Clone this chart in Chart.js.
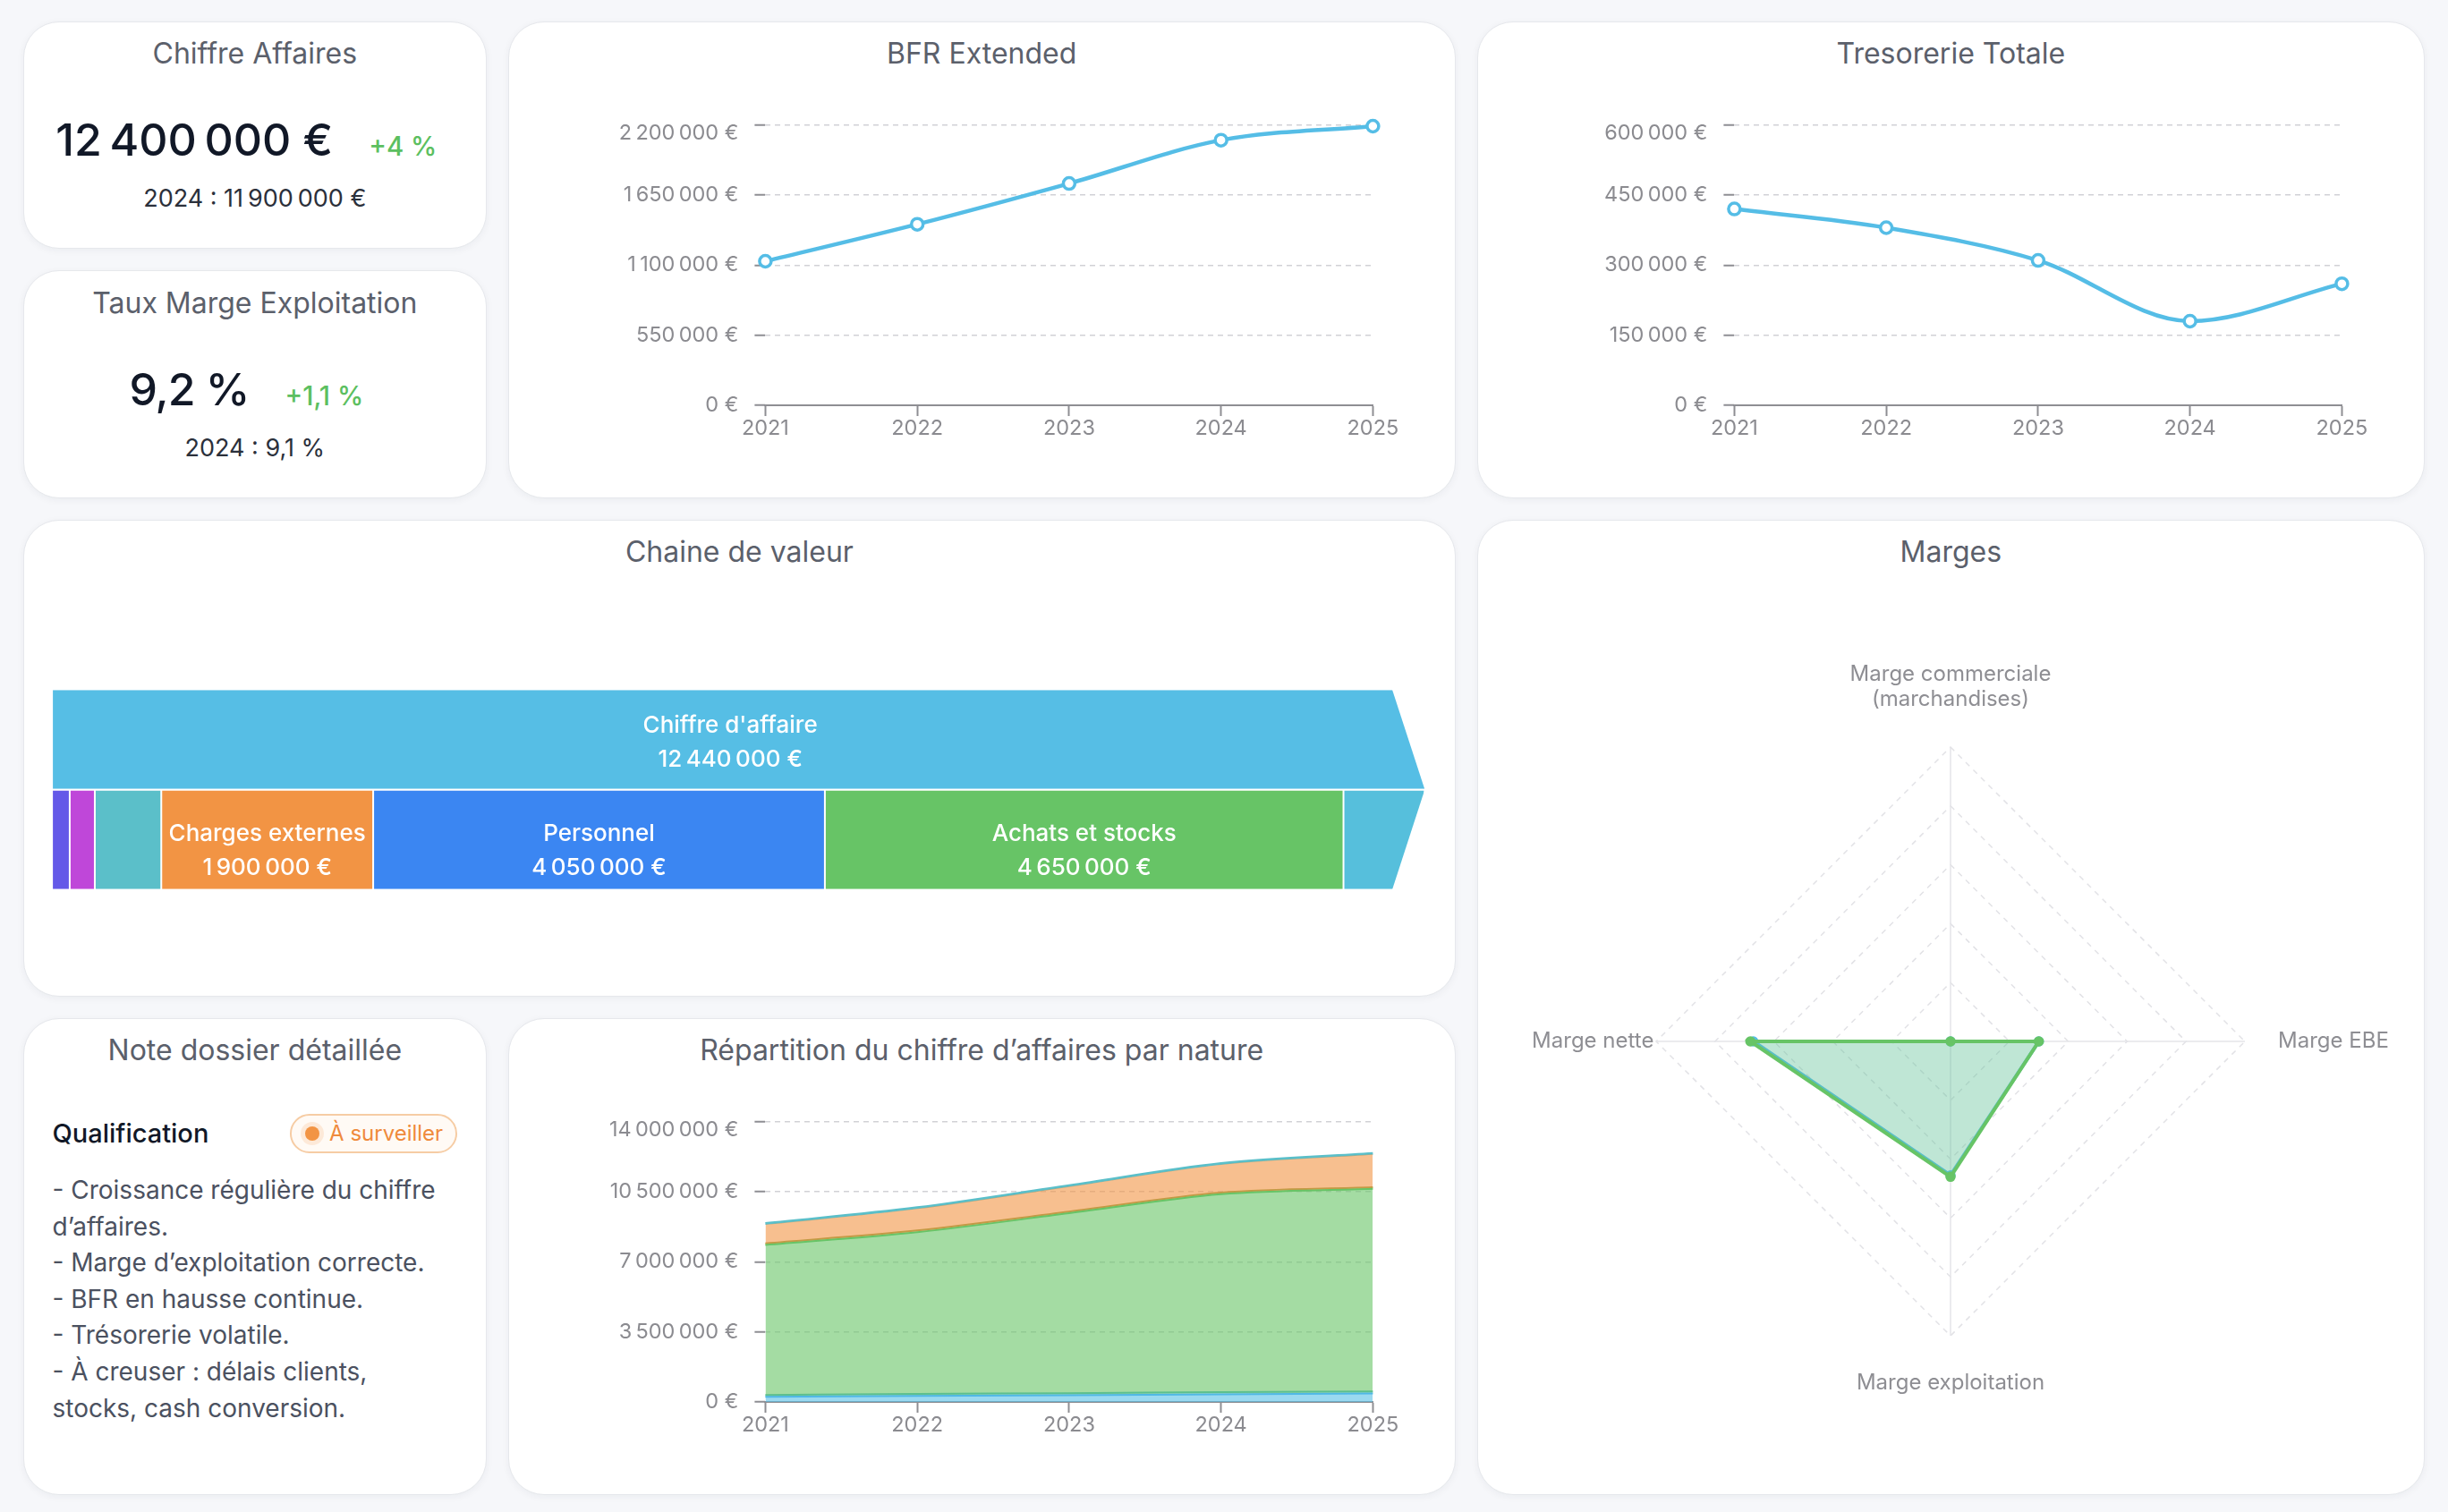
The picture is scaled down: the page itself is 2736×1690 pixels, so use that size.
<!DOCTYPE html>
<html lang="fr">
<head>
<meta charset="utf-8">
<title>Tableau de bord dossier</title>
<script src="https://cdn.jsdelivr.net/npm/chart.js@4.4.0/dist/chart.umd.min.js"></script>
<style>
  * { box-sizing: border-box; margin: 0; padding: 0; }
  html, body { width: 2736px; height: 1690px; background: #f6f7fa; font-family: 'Inter', sans-serif; overflow: hidden; }
  .grid {
    display: grid;
    grid-template-columns: repeat(5, 517.6px);
    grid-template-rows: repeat(6, 254.5px);
    gap: 24px;
    padding: 23.6px 26px 0 26px;
  }
  .card {
    position: relative;
    background: #fff;
    border: 1.5px solid #e6e8ec;
    border-radius: 40px;
    box-shadow: 0 2px 8px rgba(20, 30, 50, 0.05);
    overflow: hidden;
  }
  .ca     { grid-column: 1; grid-row: 1; }
  .tm     { grid-column: 1; grid-row: 2; }
  .bfr    { grid-column: 2 / span 2; grid-row: 1 / span 2; }
  .treso  { grid-column: 4 / span 2; grid-row: 1 / span 2; }
  .chaine { grid-column: 1 / span 3; grid-row: 3 / span 2; }
  .marges { grid-column: 4 / span 2; grid-row: 3 / span 4; }
  .note   { grid-column: 1; grid-row: 5 / span 2; }
  .rep    { grid-column: 2 / span 2; grid-row: 5 / span 2; }

  .title {
    position: absolute; left: 0; right: 0; top: 19.6px;
    text-align: center; font-size: 32px; line-height: 32px; color: #5b606b;
  }
  .kpi-row {
    position: absolute; left: 0; right: 0; top: 106.7px;
    display: flex; justify-content: center; align-items: baseline; gap: 40px;
    padding-right: 19px; line-height: 50px;
  }
  .kpi-main { font-size: 50px; font-weight: 500; color: #111827; letter-spacing: -0.02em; }
  .kpi-delta { font-size: 29.5px; font-weight: 500; color: #5cbf60; }
  .kpi-prev {
    position: absolute; left: 0; right: 0; top: 183.6px;
    text-align: center; font-size: 27px; line-height: 27px; color: #2b303b;
  }
  .chart-box { position: absolute; }
  .line-box { left: 18.5px; top: 78.5px; width: 1019px; height: 420px; }
  .chaine-box { left: 0; top: 0; width: 1598px; height: 530px; }
  .radar-box { left: 0; top: 0; width: 1056px; height: 1087px; }

  .qualif {
    position: absolute; left: 31.5px; top: 113.2px;
    font-size: 29px; line-height: 29px; font-weight: 500; color: #111827;
  }
  .badge {
    position: absolute; left: 296.5px; top: 106px; width: 187px; height: 44.7px;
    border: 2px solid #f6cca4; border-radius: 23px; background: #fffaf5;
    display: flex; align-items: center; padding-left: 15px;
    font-size: 24px; color: #ef8a3c; white-space: nowrap;
  }
  .badge .dot {
    width: 16px; height: 16px; border-radius: 50%; background: #f29444;
    box-shadow: 0 0 0 5px rgba(242, 148, 68, 0.16); margin-right: 11.6px; flex: none;
  }
  .note-text {
    position: absolute; left: 31.5px; top: 171.5px;
    font-size: 28px; line-height: 40.6px; color: #4b5160; white-space: nowrap;
  }
</style>
</head>
<body>
<div class="grid">
  <div class="card ca">
    <div class="title">Chiffre Affaires</div>
    <div class="kpi-row"><span class="kpi-main" id="caMain"></span><span class="kpi-delta" id="caDelta"></span></div>
    <div class="kpi-prev" id="caPrev"></div>
  </div>
  <div class="card tm">
    <div class="title">Taux Marge Exploitation</div>
    <div class="kpi-row"><span class="kpi-main" id="tmMain"></span><span class="kpi-delta" id="tmDelta"></span></div>
    <div class="kpi-prev" id="tmPrev"></div>
  </div>
  <div class="card bfr">
    <div class="title">BFR Extended</div>
    <div class="chart-box line-box"><canvas id="bfrChart"></canvas></div>
  </div>
  <div class="card treso">
    <div class="title">Tresorerie Totale</div>
    <div class="chart-box line-box"><canvas id="tresoChart"></canvas></div>
  </div>
  <div class="card chaine">
    <div class="title">Chaine de valeur</div>
    <div class="chart-box chaine-box"><canvas id="chaineChart"></canvas></div>
  </div>
  <div class="card marges">
    <div class="title">Marges</div>
    <div class="chart-box radar-box"><canvas id="margesChart"></canvas></div>
  </div>
  <div class="card note">
    <div class="title">Note dossier détaillée</div>
    <div class="qualif">Qualification</div>
    <div class="badge"><span class="dot"></span>À surveiller</div>
    <div class="note-text">
      - Croissance régulière du chiffre<br>
      d’affaires.<br>
      - Marge d’exploitation correcte.<br>
      - BFR en hausse continue.<br>
      - Trésorerie volatile.<br>
      - À creuser : délais clients,<br>
      stocks, cash conversion.
    </div>
  </div>
  <div class="card rep">
    <div class="title">Répartition du chiffre d’affaires par nature</div>
    <div class="chart-box line-box"><canvas id="repChart"></canvas></div>
  </div>
</div>

<script>
// KPI cards
const caValues = [11900000, 12400000];      // 2024, 2025
const caDelta = 4;
const margeExplValues = [9.1, 9.2];          // 2024, 2025
const margeExplDelta = 1.1;

// Line charts
const years = ['2021', '2022', '2023', '2024', '2025'];
const bfrValues = [1130000, 1420000, 1740000, 2080000, 2190000];
const tresoValues = [420000, 380000, 310000, 180000, 260000];

// Chaine de valeur
const chiffreAffaire = 12440000;
const chaineNames = ['Impôts et taxes', 'Autres charges', 'Dotations', 'Charges externes', 'Personnel', 'Achats et stocks', 'Résultat'];
const chaineValues = [159000, 225000, 596000, 1900000, 4050000, 4650000, 729000];
const chaineShowLabel = [false, false, false, true, true, true, false];
const chaineColors = ['#6459e8', '#bf47d9', '#5bbfc9', '#f29444', '#3b86f2', '#67c466', '#56bfdc'];

// Marges (radar)
const margeLabels = [['Marge commerciale', '(marchandises)'], 'Marge EBE', 'Marge exploitation', 'Marge nette'];
const marges2025 = [0, 6.0, 9.2, 13.6];
const marges2024 = [0, 6.0, 9.1, 13.4];

// Repartition du CA par nature (stacked)
const repMarchandises = [260000, 300000, 340000, 380000, 420000];
const repBiens = [90000, 100000, 100000, 110000, 110000];
const repServices = [7490000, 8080000, 8980000, 9880000, 10110000];
const repStockee = [80000, 80000, 80000, 80000, 80000];
const repAutres = [940000, 1090000, 1250000, 1400000, 1640000];
const repSubventions = [50000, 50000, 50000, 50000, 50000];

const euro = new Intl.NumberFormat('fr-FR', { style: 'currency', currency: 'EUR', maximumFractionDigits: 0 });
const num1 = new Intl.NumberFormat('fr-FR', { maximumFractionDigits: 1 });

document.getElementById('caMain').textContent = euro.format(caValues[1]);
document.getElementById('caDelta').textContent = '+' + num1.format(caDelta) + '\u00a0%';
document.getElementById('caPrev').textContent = '2024 : ' + euro.format(caValues[0]);
document.getElementById('tmMain').textContent = num1.format(margeExplValues[1]) + '\u00a0%';
document.getElementById('tmDelta').textContent = '+' + num1.format(margeExplDelta) + '\u00a0%';
document.getElementById('tmPrev').textContent = '2024 : ' + num1.format(margeExplValues[0]) + '\u00a0%';

Chart.defaults.font.family = 'Inter';
Chart.defaults.animation = false;
Chart.defaults.devicePixelRatio = 1;

const LINE_BLUE = '#55bde6';
const GREEN = '#67c466';
const TICK_GREY = '#8b8b90';
const AXIS_GREY = '#8e8e93';
const GRID_GREY = '#d1d1d6';
const TICK_SIZE = 23.5;

// plot area of the three line charts inside their box
const LINE_AREA = { yAxisWidth: 268.4, top: 35.6, right: 71.6, xAxisHeight: 70 };

function buildLineChart(canvasId, datasets, yMax, yStep, stacked) {
    return new Chart(document.getElementById(canvasId), {
        type: 'line',
        data: { labels: years, datasets: datasets },
        options: {
            responsive: true,
            maintainAspectRatio: false,
            layout: { padding: { top: LINE_AREA.top, right: LINE_AREA.right, bottom: 0, left: 0 } },
            plugins: { legend: { display: false }, tooltip: { enabled: false } },
            scales: {
                x: {
                    grid: { drawOnChartArea: false, drawTicks: true, tickLength: 12, tickWidth: 2, tickColor: AXIS_GREY },
                    border: { display: true, color: AXIS_GREY, width: 2 },
                    ticks: { color: TICK_GREY, font: { size: TICK_SIZE }, padding: 0, maxRotation: 0 },
                    afterFit: (s) => { s.height = LINE_AREA.xAxisHeight; }
                },
                y: {
                    stacked: stacked,
                    min: 0,
                    max: yMax,
                    grid: { color: GRID_GREY, lineWidth: 1.5, tickLength: 12, tickWidth: 2, tickColor: AXIS_GREY, tickBorderDash: [] },
                    border: { display: false, dash: [6, 5] },
                    ticks: {
                        stepSize: yStep,
                        color: TICK_GREY,
                        padding: 18,
                        // top label sits just under its grid line
                        font: (c) => ({ size: TICK_SIZE, lineHeight: c.tick && c.tick.value === yMax ? 0.79 : 1.2 }),
                        callback: (v) => v === yMax ? ['', euro.format(v)] : euro.format(v)
                    },
                    afterFit: (s) => { s.width = LINE_AREA.yAxisWidth; }
                }
            }
        }
    });
}

function pointLine(values) {
    return {
        data: values,
        borderColor: LINE_BLUE,
        borderWidth: 4.5,
        pointRadius: 6.5,
        pointBackgroundColor: '#fff',
        pointBorderColor: LINE_BLUE,
        pointBorderWidth: 3.5,
        cubicInterpolationMode: 'monotone',
        fill: false,
        clip: false
    };
}

buildLineChart('bfrChart', [pointLine(bfrValues)], 2200000, 550000, false);
buildLineChart('tresoChart', [pointLine(tresoValues)], 600000, 150000, false);

function areaLayer(label, values, line, fillColor, width, first) {
    return {
        label: label,
        data: values,
        borderColor: line,
        backgroundColor: fillColor,
        borderWidth: width,
        pointRadius: 0,
        cubicInterpolationMode: 'monotone',
        fill: first ? 'origin' : '-1'
    };
}

buildLineChart('repChart', [
    areaLayer('Ventes de marchandises', repMarchandises, '#4fb8e6', 'rgba(86,191,230,0.6)', 2, true),
    areaLayer('Production vendue (biens)', repBiens, '#5cbf8e', 'rgba(92,191,142,0.6)', 2, false),
    areaLayer('Production vendue (services)', repServices, GREEN, 'rgba(103,196,102,0.6)', 2, false),
    areaLayer('Production stockée', repStockee, '#c39a45', 'rgba(242,148,68,0.6)', 2, false),
    areaLayer('Autres produits', repAutres, 'rgba(0,0,0,0)', 'rgba(242,148,68,0.6)', 0, false),
    areaLayer('Subventions', repSubventions, '#5bbfc9', 'rgba(91,191,201,0.6)', 3, false)
], 14000000, 3500000, true);

// ---- Chaine de valeur : stacked horizontal bars cut into an arrow ----
const ARROW_DEPTH = 36.5;
const chaineTotal = chaineValues.reduce((a, b) => a + b, 0);

const arrowClip = {
    id: 'arrowClip',
    beforeDatasetsDraw(chart) {
        const { ctx, chartArea: a } = chart;
        const tip = a.right;
        const mid = (a.top + a.bottom) / 2;
        ctx.save();
        ctx.beginPath();
        ctx.moveTo(a.left, a.top);
        ctx.lineTo(tip - ARROW_DEPTH, a.top);
        ctx.lineTo(tip, mid);
        ctx.lineTo(tip - ARROW_DEPTH, a.bottom);
        ctx.lineTo(a.left, a.bottom);
        ctx.closePath();
        ctx.clip();
    },
    afterDatasetsDraw(chart) {
        chart.ctx.restore();
    }
};

const chaineText = {
    id: 'chaineText',
    afterDraw(chart) {
        const ctx = chart.ctx;
        ctx.save();
        ctx.fillStyle = '#fff';
        ctx.font = '500 26px Inter';
        ctx.textAlign = 'center';
        ctx.textBaseline = 'alphabetic';
        chart.data.datasets.forEach((ds, di) => {
            if (!ds.showText) return;
            const row = di === 0 ? 0 : 1;
            const bar = chart.getDatasetMeta(di).data[row];
            const p = bar.getProps(['x', 'y', 'base'], true);
            let cx, y1, y2;
            if (row === 0) {
                cx = (p.base + chart.chartArea.right - ARROW_DEPTH / 2) / 2;
                y1 = p.y - 8; y2 = p.y + 30;
            } else {
                cx = (p.x + p.base) / 2;
                y1 = p.y + 1; y2 = p.y + 38.8;
            }
            ctx.fillText(ds.label, cx, y1);
            ctx.fillText(euro.format(ds.data[row]), cx, y2);
        });
        ctx.restore();
    }
};

const chaineDatasets = [{
    label: "Chiffre d'affaire",
    data: [chiffreAffaire, 0],
    backgroundColor: '#56bee5',
    showText: true
}].concat(chaineNames.map((n, i) => ({
    label: n,
    data: [0, chaineValues[i]],
    backgroundColor: chaineColors[i],
    showText: chaineShowLabel[i]
})));

new Chart(document.getElementById('chaineChart'), {
    type: 'bar',
    data: { labels: ['CA', 'Décomposition'], datasets: chaineDatasets },
    options: {
        indexAxis: 'y',
        responsive: true,
        maintainAspectRatio: false,
        layout: { padding: { left: 31.1, right: 32.6, top: 188.4, bottom: 117.2 } },
        datasets: {
            bar: {
                barPercentage: 0.983,
                categoryPercentage: 1,
                borderColor: '#fff',
                borderWidth: { left: 1, right: 1, top: 0, bottom: 0 },
                borderSkipped: false
            }
        },
        plugins: { legend: { display: false }, tooltip: { enabled: false } },
        scales: {
            x: { stacked: true, min: 0, max: chaineTotal, display: false },
            y: { stacked: true, display: false }
        }
    },
    plugins: [arrowClip, chaineText]
});

// ---- Marges radar ----
const radarLabels = {
    id: 'radarLabels',
    afterDraw(chart) {
        const scale = chart.scales.r;
        const ctx = chart.ctx;
        const r = scale.drawingArea;
        ctx.save();
        ctx.fillStyle = '#8e8e93';
        ctx.font = '24px Inter';
        margeLabels.forEach((lab, i) => {
            const lines = Array.isArray(lab) ? lab : [lab];
            let p;
            if (i === 0) {
                p = scale.getPointPosition(i, r + 46);
                ctx.textAlign = 'center'; ctx.textBaseline = 'alphabetic';
                lines.forEach((t, k) => ctx.fillText(t, p.x, p.y - (lines.length - 1 - k) * 28));
            } else if (i === 1) {
                p = scale.getPointPosition(i, r + 37);
                ctx.textAlign = 'left'; ctx.textBaseline = 'middle';
                ctx.fillText(lines[0], p.x, p.y);
            } else if (i === 2) {
                p = scale.getPointPosition(i, r + 60);
                ctx.textAlign = 'center'; ctx.textBaseline = 'alphabetic';
                ctx.fillText(lines[0], p.x, p.y);
            } else {
                p = scale.getPointPosition(i, r + 2.6);
                ctx.textAlign = 'right'; ctx.textBaseline = 'middle';
                ctx.fillText(lines[0], p.x, p.y);
            }
        });
        ctx.restore();
    }
};

new Chart(document.getElementById('margesChart'), {
    type: 'radar',
    data: {
        labels: margeLabels,
        datasets: [
            {
                label: '2025', data: marges2025,
                borderColor: GREEN, backgroundColor: 'rgba(103,196,102,0.25)', borderWidth: 4,
                pointRadius: 5, pointBackgroundColor: GREEN, pointBorderColor: GREEN, pointBorderWidth: 1.5,
                fill: true
            },
            {
                label: '2024', data: marges2024,
                borderColor: LINE_BLUE, backgroundColor: 'rgba(86,191,230,0.2)', borderWidth: 4,
                pointRadius: 5, pointBackgroundColor: LINE_BLUE, pointBorderColor: LINE_BLUE, pointBorderWidth: 1.5,
                fill: true
            }
        ]
    },
    options: {
        responsive: true,
        maintainAspectRatio: false,
        layout: { padding: { left: 199, right: 199, top: 253, bottom: 176 } },
        plugins: { legend: { display: false }, tooltip: { enabled: false } },
        scales: {
            r: {
                min: 0,
                max: 20,
                ticks: { display: false, stepSize: 4 },
                grid: { circular: false, color: '#e2e2e6', lineWidth: 1.5 },
                border: { dash: [6, 6] },
                angleLines: { color: '#e4e4e8', lineWidth: 1.5 },
                pointLabels: { display: false }
            }
        }
    },
    plugins: [radarLabels]
});
</script>
</body>
</html>
